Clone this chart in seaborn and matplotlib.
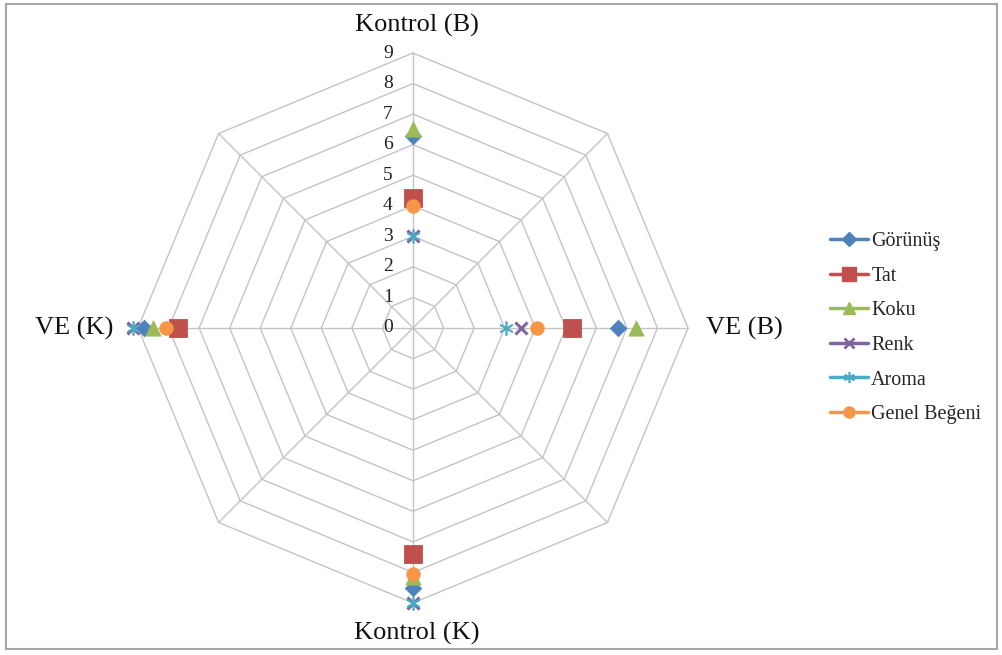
import numpy as np
import matplotlib
matplotlib.use("Agg")
import matplotlib.pyplot as plt
from matplotlib.lines import Line2D
from matplotlib.patches import Rectangle
import seaborn as sns

sns.set_theme(style="white")
plt.rcParams["font.family"] = ["Liberation Serif", "DejaVu Serif"]

# Spokes of the radar (four labelled, four empty)
categories = ["Kontrol (B)", "", "VE (B)", "", "Kontrol (K)", "", "VE (K)", ""]
labelled = ["Kontrol (B)", "VE (B)", "Kontrol (K)", "VE (K)"]

# Sensory scores per attribute, in the order of `labelled`
gorunus = [6.3, 6.7, 8.5, 8.8]
tat = [4.25, 5.2, 7.4, 7.7]
koku = [6.5, 7.3, 8.15, 8.5]
renk = [3.0, 3.55, 9.0, 9.15]
aroma = [3.0, 3.05, 9.0, 9.15]
genel_begeni = [4.0, 4.05, 8.05, 8.1]

series_names = ["Görünüş", "Tat", "Koku", "Renk", "Aroma", "Genel Beğeni"]
series_values = [gorunus, tat, koku, renk, aroma, genel_begeni]
tick_values = list(range(0, 10))

colors = ["#4F81BD", "#C0504D", "#9BBB59", "#8064A2", "#4BACC6", "#F79646"]
markers = ["D", "s", "^", "x", (6, 2, 0), "o"]
sizes = [70, 150, 120, 75, 90, 95]

W, H, DPI = 1003, 655, 100
fig = plt.figure(figsize=(W / DPI, H / DPI), dpi=DPI)
fig.patch.set_facecolor("white")

cx, cy, R = 413, 328, 275
ax = fig.add_axes([(cx - R) / W, (H - cy - R) / H, 2 * R / W, 2 * R / H],
                  projection="polar")
ax.set_theta_zero_location("N")
ax.set_theta_direction(-1)
ax.set_ylim(0, 9)
ax.grid(False)
ax.spines["polar"].set_visible(False)
ax.set_xticks([])
ax.set_yticks([])
ax.patch.set_alpha(0)

n = len(categories)
angles = np.arange(n) * 2 * np.pi / n
grid_col = "#C4C4C4"

# Octagonal rings and spokes
ring_theta = np.append(angles, angles[0])
for r in tick_values[1:]:
    ax.plot(ring_theta, [r] * len(ring_theta), color=grid_col, lw=1.0,
            zorder=1, clip_on=False)
for a in angles:
    ax.plot([a, a], [0, 9], color=grid_col, lw=1.0, zorder=1, clip_on=False)

# Radial value labels along the top spoke
for v in tick_values:
    ax.annotate(str(v), xy=(0, v), xytext=(-14.5, 0), textcoords="offset points",
                ha="right", va="center", fontsize=14, color="#222222",
                annotation_clip=False)

# Category labels outside the outer ring
label_offsets = {
    "Kontrol (B)": ((3, 20), "center", "center"),
    "VE (B)": ((13, 0), "left", "center"),
    "Kontrol (K)": ((3, -22), "center", "center"),
    "VE (K)": ((-18, 0), "right", "center"),
}
cat_angle = {c: angles[i] for i, c in enumerate(categories) if c}
for c in labelled:
    off, ha, va = label_offsets[c]
    ax.annotate(c, xy=(cat_angle[c], 9), xytext=off, textcoords="offset points",
                ha=ha, va=va, fontsize=19, color="#111111",
                annotation_clip=False)

theta_pts = [cat_angle[c] for c in labelled]
line_w = [0.6, 0.6, 0.6, 2.2, 1.2, 0.6]
for i, (name, vals) in enumerate(zip(series_names, series_values)):
    m = markers[i]
    filled = m not in ("x",) and not isinstance(m, tuple)
    kw = dict(edgecolor=colors[i], linewidth=line_w[i]) if filled else dict(linewidth=line_w[i])
    sns.scatterplot(x=theta_pts, y=vals, marker=m, color=colors[i], s=sizes[i],
                    ax=ax, zorder=3 + i, clip_on=False, legend=False, **kw)
ax.set_xlabel("")
ax.set_ylabel("")

# Legend: line with marker
handles = []
leg_ms = [7, 9.5, 9, 7, 8, 8]
leg_mew = [1.0, 1.0, 1.0, 2.0, 1.2, 1.0]
for i, name in enumerate(series_names):
    m = markers[i]
    handles.append(Line2D([0], [0], color=colors[i], lw=2.5, marker=m,
                          markersize=leg_ms[i], markerfacecolor=colors[i],
                          markeredgecolor=colors[i], markeredgewidth=leg_mew[i]))
fig.legend(handles=handles, labels=series_names, loc="upper left",
           bbox_to_anchor=(830 / W, 1 - 232 / H), frameon=False,
           fontsize=14.5, handlelength=1.9, handletextpad=0.15,
           labelspacing=0.77, borderaxespad=0, borderpad=0)

# Outer frame around the chart
fig.patches.append(Rectangle((6 / W, 6 / H), 991 / W, 645 / H,
                             transform=fig.transFigure, fill=False,
                             edgecolor="#A6A6A6", lw=1.5))

fig.savefig("out.png", dpi=DPI, facecolor="white")
